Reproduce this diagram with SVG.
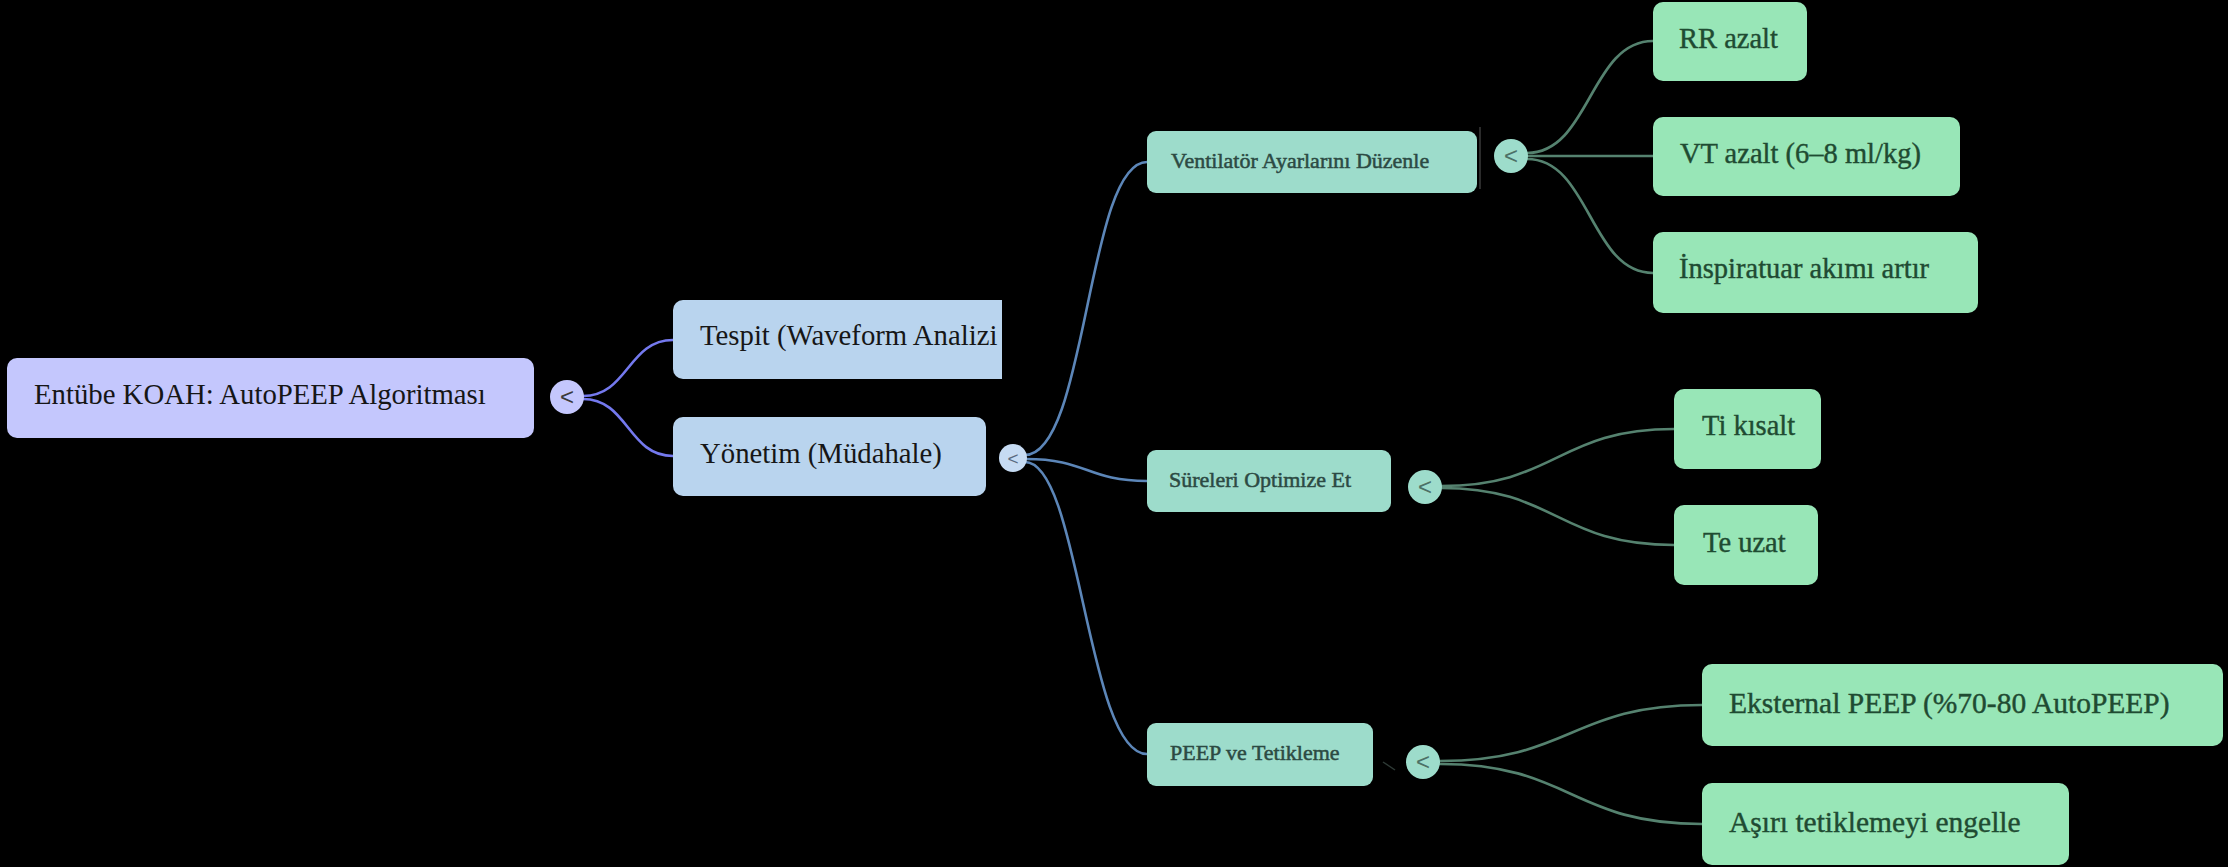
<svg xmlns="http://www.w3.org/2000/svg" width="2228" height="867" viewBox="0 0 2228 867">
  <defs>
    <style>
      .bg { fill: #000000; }
      .lbl { font-family: "Liberation Serif", "Times New Roman", serif; }
      .root rect { fill: #c4c7fd; }
      .root text { fill: #161616; font-size: 28.75px; }
      .l1 rect { fill: #b9d4ee; }
      .l1 text { fill: #161616; font-size: 28.75px; }
      .l2 rect { fill: #9ddccb; }
      .l2 text { fill: #2c4a43; font-size: 22px; stroke: #2c4a43; stroke-width: 0.5px; }
      .l3 rect { fill: #98e6b7; }
      .l3 text { fill: #1f4b32; font-size: 28.5px; stroke: #1f4b32; stroke-width: 0.4px; }
      .tg-root { fill: #c4c7fd; }
      .tg-l1 { fill: #c6dbf3; }
      .tg-l2 { fill: #9ddccb; }
      .chev { font-family: "Liberation Sans", Arial, sans-serif; font-size: 24px; text-anchor: middle; }
      .edge { fill: none; stroke-width: 2.6; stroke-linecap: round; }
      .e0 { stroke: #7479ee; }
      .e1 { stroke: #5c86b8; }
      .e2 { stroke: #55826f; }
    </style>
    <clipPath id="cut-tespit">
      <rect x="660" y="290" width="342" height="100"/>
    </clipPath>
  </defs>

  <rect class="bg" x="0" y="0" width="2228" height="867"/>

  <!-- connectors -->
  <g id="connectors">
    <path class="edge e0" d="M583 396 C 628 396, 628 340, 673 340"/>
    <path class="edge e0" d="M583 399 C 628 399, 628 456, 673 456"/>

    <path class="edge e1" d="M1025 455 C 1087 455, 1087 162, 1147 162"/>
    <path class="edge e1" d="M1026 459 C 1087 459, 1087 481, 1147 481"/>
    <path class="edge e1" d="M1025 462 C 1080 462, 1087 754, 1147 754"/>

    <path class="edge e2" d="M1527 153 C 1590 153, 1590 41, 1653 41"/>
    <path class="edge e2" d="M1528 156 L 1653 156"/>
    <path class="edge e2" d="M1527 159 C 1590 159, 1590 273, 1653 273"/>

    <path class="edge e2" d="M1441 486 C 1557 486, 1557 429, 1674 429"/>
    <path class="edge e2" d="M1441 488 C 1557 488, 1557 545, 1674 545"/>

    <path class="edge e2" d="M1440 761 C 1571 761, 1571 705, 1702 705"/>
    <path class="edge e2" d="M1440 764 C 1571 764, 1571 824, 1702 824"/>

    <!-- stray separators -->
    <line x1="1480" y1="127" x2="1480" y2="189" stroke="#3a3a3a" stroke-width="1.5"/>
    <line x1="1383" y1="762" x2="1395" y2="770" stroke="#2e3a36" stroke-width="1.5"/>
  </g>

  <!-- root -->
  <g id="node-root" class="root lbl">
    <rect x="7" y="358" width="527" height="80" rx="10"/>
    <text x="34" y="404">Entübe KOAH: AutoPEEP Algoritması</text>
  </g>
  <g id="toggle-root">
    <circle class="tg-root" cx="567" cy="397" r="17"/>
    <text class="chev" x="567" y="405" fill="#3a3a3a">&lt;</text>
  </g>

  <!-- level 1 -->
  <g id="node-tespit" class="l1 lbl" clip-path="url(#cut-tespit)">
    <rect x="673" y="300" width="345" height="79" rx="10"/>
    <text x="700" y="345">Tespit (Waveform Analizi</text>
  </g>
  <g id="node-yonetim" class="l1 lbl">
    <rect x="673" y="417" width="313" height="79" rx="10"/>
    <text x="700" y="463">Yönetim (Müdahale)</text>
  </g>
  <g id="toggle-yonetim">
    <circle class="tg-l1" cx="1013" cy="458" r="14"/>
    <text class="chev" x="1013" y="465" font-size="19" style="font-size:19px" fill="#5a6a80">&lt;</text>
  </g>

  <!-- level 2 -->
  <g id="node-ventilator" class="l2 lbl">
    <rect x="1147" y="131" width="330" height="62" rx="9"/>
    <text x="1171" y="168">Ventilatör Ayarlarını Düzenle</text>
  </g>
  <g id="toggle-ventilator">
    <circle class="tg-l2" cx="1511" cy="156" r="17"/>
    <text class="chev" x="1511" y="164" fill="#4c7066">&lt;</text>
  </g>

  <g id="node-sureler" class="l2 lbl">
    <rect x="1147" y="450" width="244" height="62" rx="9"/>
    <text x="1169" y="487">Süreleri Optimize Et</text>
  </g>
  <g id="toggle-sureler">
    <circle class="tg-l2" cx="1425" cy="487" r="17"/>
    <text class="chev" x="1425" y="495" fill="#4c7066">&lt;</text>
  </g>

  <g id="node-peep" class="l2 lbl">
    <rect x="1147" y="723" width="226" height="63" rx="9"/>
    <text x="1170" y="760">PEEP ve Tetikleme</text>
  </g>
  <g id="toggle-peep">
    <circle class="tg-l2" cx="1423" cy="762" r="17"/>
    <text class="chev" x="1423" y="770" fill="#4c7066">&lt;</text>
  </g>

  <!-- level 3 -->
  <g id="node-rr" class="l3 lbl">
    <rect x="1653" y="2" width="154" height="79" rx="10"/>
    <text x="1679" y="48">RR azalt</text>
  </g>
  <g id="node-vt" class="l3 lbl">
    <rect x="1653" y="117" width="307" height="79" rx="10"/>
    <text x="1680" y="163">VT azalt (6–8 ml/kg)</text>
  </g>
  <g id="node-insp" class="l3 lbl">
    <rect x="1653" y="232" width="325" height="81" rx="10"/>
    <text x="1679" y="278">İnspiratuar akımı artır</text>
  </g>
  <g id="node-ti" class="l3 lbl">
    <rect x="1674" y="389" width="147" height="80" rx="10"/>
    <text x="1702" y="435">Ti kısalt</text>
  </g>
  <g id="node-te" class="l3 lbl">
    <rect x="1674" y="505" width="144" height="80" rx="10"/>
    <text x="1703" y="552">Te uzat</text>
  </g>
  <g id="node-eksternal" class="l3 lbl">
    <rect x="1702" y="664" width="521" height="82" rx="10"/>
    <text x="1729" y="713" style="font-size:29.5px">Eksternal PEEP (%70-80 AutoPEEP)</text>
  </g>
  <g id="node-asiri" class="l3 lbl">
    <rect x="1702" y="783" width="367" height="82" rx="10"/>
    <text x="1729" y="832" style="font-size:29.5px">Aşırı tetiklemeyi engelle</text>
  </g>
</svg>
